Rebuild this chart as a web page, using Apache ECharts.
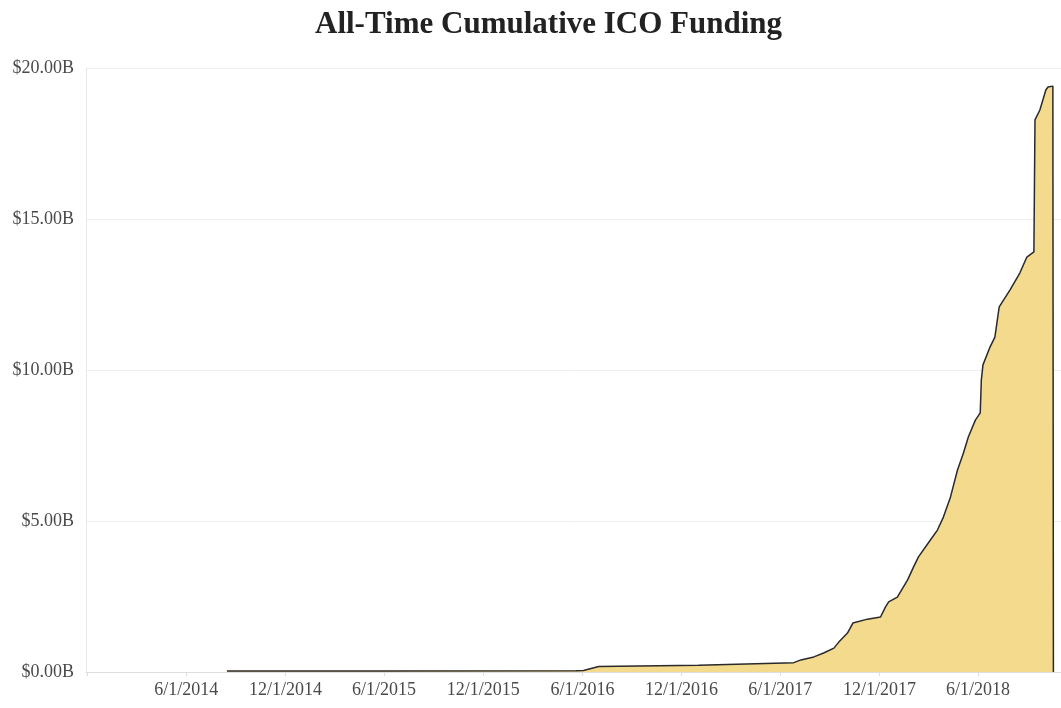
<!DOCTYPE html>
<html>
<head>
<meta charset="utf-8">
<script src="https://cdn.jsdelivr.net/npm/echarts@6/dist/echarts.min.js"></script>
<style>
  html, body { height: 100%; margin: 0; background: #fff; }
  #chart { width: 1061px; height: 708px; }
</style>
</head>
<body>
<div id="chart"></div>
<script>
  // dates of cumulative funding readings and values in billions USD
  const dates = [
    '2014-08-15', '2015-06-01', '2016-05-20', '2016-06-03', '2016-07-01', '2017-01-01',
    '2017-06-26', '2017-07-09', '2017-08-02', '2017-08-20', '2017-09-08', '2017-09-17',
    '2017-10-03', '2017-10-13', '2017-10-14', '2017-11-09', '2017-12-03', '2017-12-12',
    '2017-12-18', '2018-01-03', '2018-01-14', '2018-01-22', '2018-02-02', '2018-02-11',
    '2018-03-05', '2018-03-18', '2018-03-29', '2018-04-11', '2018-04-24', '2018-05-05',
    '2018-05-14', '2018-05-27', '2018-06-05', '2018-06-07', '2018-06-10', '2018-06-23',
    '2018-07-02', '2018-07-10', '2018-07-30', '2018-08-17', '2018-08-30', '2018-09-12',
    '2018-09-14', '2018-09-23', '2018-10-04', '2018-10-08', '2018-10-17', '2018-10-18'
  ];
  const values = [
    0.03, 0.035, 0.04, 0.05, 0.18, 0.22,
    0.31, 0.40, 0.50, 0.63, 0.79, 0.99,
    1.29, 1.62, 1.66, 1.75, 1.82, 2.15,
    2.32, 2.48, 2.81, 3.05, 3.48, 3.81,
    4.37, 4.70, 5.13, 5.79, 6.69, 7.25,
    7.78, 8.34, 8.58, 9.67, 10.17, 10.76,
    11.09, 12.09, 12.65, 13.21, 13.74, 13.91,
    18.28, 18.61, 19.27, 19.37, 19.40, 0
  ];
  const tickDates = [
    '2013-12-01', '2014-06-01', '2014-12-01', '2015-06-01', '2015-12-01', '2016-06-01',
    '2016-12-01', '2017-06-01', '2017-12-01', '2018-06-01'
  ];
  const labelDates = tickDates.slice(1);

  const toTime = s => {
    const p = s.split('-').map(Number);
    return Date.UTC(p[0], p[1] - 1, p[2]);
  };

  const chart = echarts.init(document.getElementById('chart'), null, { renderer: 'canvas' });
  const serif = 'Liberation Serif';

  const option = {
    animation: false,
    title: {
      text: 'All-Time Cumulative ICO Funding',
      left: 310,
      top: 4,
      textStyle: { fontFamily: serif, fontSize: 31, fontWeight: 'bold', color: '#222' }
    },
    grid: { left: 86, right: 0, top: 68, bottom: 36, containLabel: false },
    xAxis: {
      type: 'value',
      min: toTime('2013-11-28'),
      max: toTime('2018-11-01'),
      axisLine: { show: true, lineStyle: { color: '#ddd' } },
      axisTick: {
        show: true,
        length: 4,
        lineStyle: { color: '#ddd' },
        customValues: tickDates.map(toTime)
      },
      axisLabel: {
        customValues: labelDates.map(toTime),
        margin: 9,
        fontFamily: serif,
        fontSize: 18,
        color: '#4a4a4a',
        formatter: function (v) {
          const d = new Date(v);
          return (d.getUTCMonth() + 1) + '/' + d.getUTCDate() + '/' + d.getUTCFullYear();
        }
      },
      splitLine: { show: false }
    },
    yAxis: {
      type: 'value',
      min: 0,
      max: 20,
      interval: 5,
      axisLine: { show: true, lineStyle: { color: '#e8e8e8' } },
      axisTick: { show: false },
      axisLabel: {
        fontFamily: serif,
        fontSize: 18,
        color: '#4a4a4a',
        margin: 12,
        formatter: v => '$' + v.toFixed(2) + 'B'
      },
      splitLine: { lineStyle: { color: '#eeeeee' } }
    },
    series: [{
      type: 'line',
      showSymbol: false,
      data: dates.map((d, i) => [toTime(d), values[i]]),
      lineStyle: { color: '#2a2a2a', width: 1.5 },
      areaStyle: { color: '#f4da8c', opacity: 1 }
    }]
  };

  chart.setOption(option);
  window.addEventListener('resize', chart.resize);
</script>
</body>
</html>
